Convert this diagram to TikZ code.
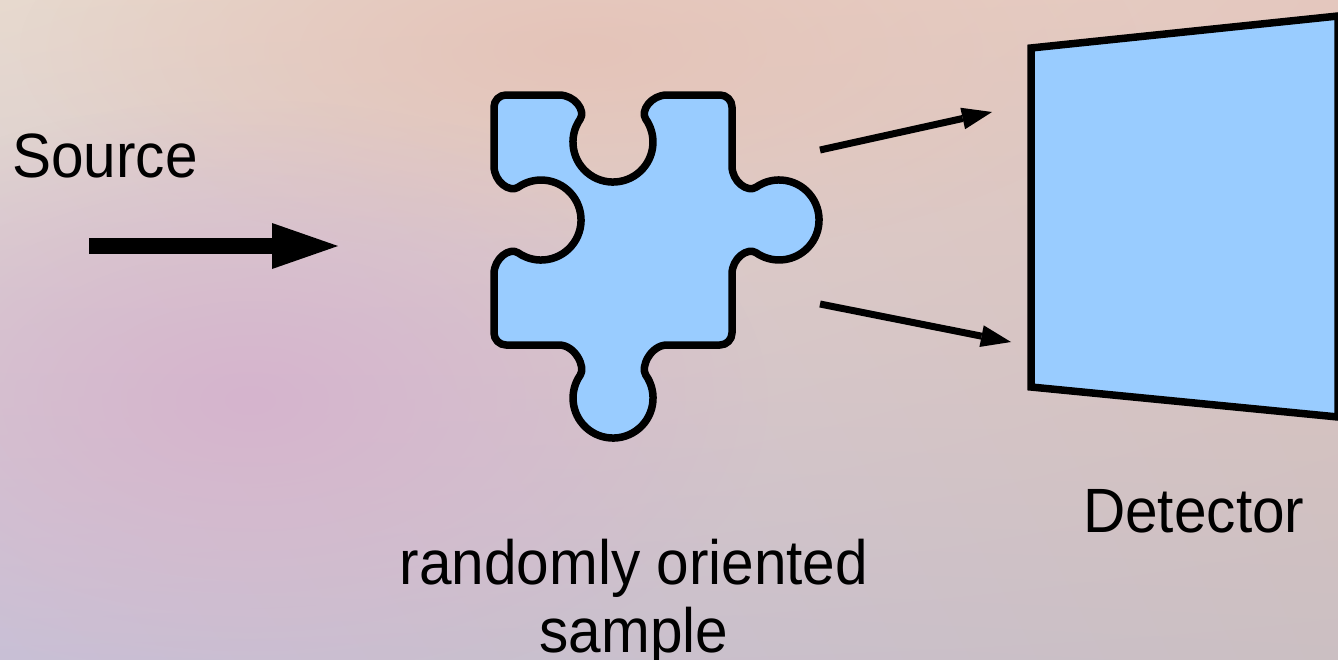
\documentclass[tikz,border=0pt]{standalone}
\usepackage{fontspec}
\setmainfont{Liberation Sans}
\usetikzlibrary{arrows.meta,fadings,shadings}

\definecolor{piecefill}{RGB}{153,204,255}
\definecolor{bgUL}{RGB}{231,217,206}
\definecolor{bgUR}{RGB}{228,199,190}
\definecolor{bgLL}{RGB}{200,192,214}
\definecolor{bgLR}{RGB}{203,191,194}
\definecolor{blobpink}{RGB}{214,180,205}
\definecolor{blobpeach}{RGB}{229,196,185}

\tikzfading[name=softblob, inner color=transparent!0, outer color=transparent!100]

% text slightly taller than wide, as in the slide it comes from
\newcommand{\tallword}[1]{\scalebox{1}[1.07]{#1}}

\begin{document}
\begin{tikzpicture}[x=1pt, y=1pt, line join=round,
  caption/.style={font=\fontsize{58.5}{68}\selectfont, inner sep=0pt, text=black},
  ray/.style={line width=7pt, -{Triangle[length=30pt, width=22pt, line width=0pt]}},
  beam/.style={line width=16pt, -{Triangle[length=66pt, width=46pt, line width=0pt]}},
  outline/.style={draw=black, line width=7.5pt, fill=piecefill}]

\useasboundingbox (0,0) rectangle (1338,-659);
\clip (0,0) rectangle (1338,-659);

% soft background
\shade[upper left=bgUL, upper right=bgUR, lower left=bgLL, lower right=bgLR]
  (0,0) rectangle (1338,-659);
\fill[blobpeach, path fading=softblob] (580,-50) ellipse [x radius=560, y radius=210];
\fill[blobpink, path fading=softblob] (250,-400) ellipse [x radius=520, y radius=300];

% incoming beam
\coordinate (beamtail) at (89,-246);
\coordinate (beamtip) at (338,-246);
\draw[beam] (beamtail) -- (beamtip);
\node[caption, anchor=base west] (source) at (12,-177) {\tallword{Source}};

% the sample: a puzzle piece
\begin{scope}[shift={(613,-220)}]
\draw[outline] (-107,125) -- (-54,125)
  .. controls (-38,125) and (-27.1,109.1) .. (-32.8,100.9)
  arc[start angle=145, end angle=395, radius=40]
  .. controls (27.1,109.1) and (38,125) .. (54,125)
  -- (107,125) .. controls (113.6,125) and (119,119.6) .. (119,113)
  -- (119,54) .. controls (119,38) and (134.9,27.1) .. (143.1,32.8)
  arc[start angle=125, end angle=-125, radius=40]
  .. controls (134.9,-27.1) and (119,-38) .. (119,-54)
  -- (119,-113) .. controls (119,-119.6) and (113.6,-125) .. (107,-125)
  -- (54,-125) .. controls (38,-125) and (27.1,-146.9) .. (32.8,-155.1)
  arc[start angle=35, end angle=-215, radius=40]
  .. controls (-27.1,-146.9) and (-38,-125) .. (-54,-125)
  -- (-107,-125) .. controls (-113.6,-125) and (-119,-119.6) .. (-119,-113)
  -- (-119,-54) .. controls (-119,-38) and (-103.1,-27.1) .. (-94.9,-32.8)
  arc[start angle=-125, end angle=125, radius=40]
  .. controls (-103.1,27.1) and (-119,38) .. (-119,54)
  -- (-119,113) .. controls (-119,119.6) and (-113.6,125) .. (-107,125)
  -- cycle;
\end{scope}
\node[caption, anchor=base] (sampleA) at (634,-584) {\tallword{randomly oriented}};
\node[caption, anchor=base] (sampleB) at (634,-652) {\tallword{sample}};

% scattered rays
\coordinate (rayAstart) at (820,-150);
\coordinate (rayAend) at (992,-112);
\coordinate (rayBstart) at (820,-304);
\coordinate (rayBend) at (1011,-342);
\draw[ray] (rayAstart) -- (rayAend);
\draw[ray] (rayBstart) -- (rayBend);

% detector plate
\draw[outline, line join=miter] (1031,-48) -- (1338,-16) -- (1338,-417) -- (1031,-387) -- cycle;
\node[caption, anchor=base west] (detector) at (1083,-532) {\tallword{Detector}};

\end{tikzpicture}
\end{document}
